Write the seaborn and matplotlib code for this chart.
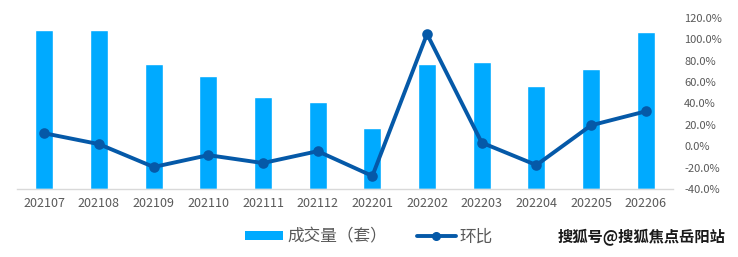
import numpy as np
import pandas as pd
import matplotlib
matplotlib.use("Agg")
import matplotlib.pyplot as plt
import seaborn as sns
from matplotlib.ticker import FuncFormatter
from matplotlib.patches import Patch
from matplotlib.lines import Line2D

months = ["202107", "202108", "202109", "202110", "202111", "202112",
          "202201", "202202", "202203", "202204", "202205", "202206"]
volume = [1095, 1095, 858, 774, 635, 600, 419, 858, 872, 705, 823, 1081]
mom_pct = [12.1, 1.9, -19.5, -8.4, -15.8, -4.7, -27.9, 105.0, 3.3, -17.7, 19.5, 32.6]
right_ticks = [-40, -20, 0, 20, 40, 60, 80, 100, 120]
legend_labels = ["成交量（套）", "环比"]
watermark = "搜狐号@搜狐焦点岳阳站"

bar_color = "#00AAFF"
line_color = "#0559A8"

sns.set_style("white")
plt.rcParams['font.family'] = ['Noto Sans CJK SC', 'DejaVu Sans']

df = pd.DataFrame({"month": months, "volume": volume, "mom": mom_pct})

fig = plt.figure(figsize=(7.38, 2.57), dpi=100)
ax = fig.add_axes([0.023, 0.265, 0.889, 0.665])
sns.barplot(data=df, x="month", y="volume", ax=ax, color=bar_color,
            width=0.33, saturation=1)
ax.set_ylim(0, 1175)
ax.set_yticks([])
ax.set_xlabel("")
ax.set_ylabel("")
for s in ["top", "right", "left"]:
    ax.spines[s].set_visible(False)
ax.spines["bottom"].set_color("#D9D9D9")
ax.spines["bottom"].set_linewidth(1)
ax.tick_params(axis="x", length=0, labelsize=9, labelcolor="#595959", pad=6)

ax2 = ax.twinx()
sns.pointplot(data=df, x="month", y="mom", ax=ax2, color=line_color,
              markers="o", linewidth=2.8, markersize=5.5)
ax2.set_ylim(-40, 120)
ax2.set_yticks(right_ticks)
ax2.yaxis.set_major_formatter(FuncFormatter(lambda v, p: f"{v:.1f}%"))
ax2.tick_params(axis="y", length=0, labelsize=8, labelcolor="#595959", pad=8)
ax2.set_ylabel("")
ax2.set_xlabel("")
for s in ["top", "right", "left", "bottom"]:
    ax2.spines[s].set_visible(False)
ax.set_xlim(-0.5, 11.5)

handles = [Patch(facecolor=bar_color, edgecolor="none"),
           Line2D([0], [0], color=line_color, lw=2.8, marker="o", markersize=5.5)]
fig.legend(handles, legend_labels, loc="center", bbox_to_anchor=(0.5, 0.078),
           ncol=2, frameon=False, fontsize=12, labelcolor="#595959",
           handlelength=2.3, handleheight=0.42, columnspacing=1.8, handletextpad=0.25,
           numpoints=1)

fig.text(0.983, 0.078, watermark, ha="right", va="center", fontsize=11,
         fontweight="bold", color="#1a1a1a")

fig.savefig("out.png", dpi=100)
